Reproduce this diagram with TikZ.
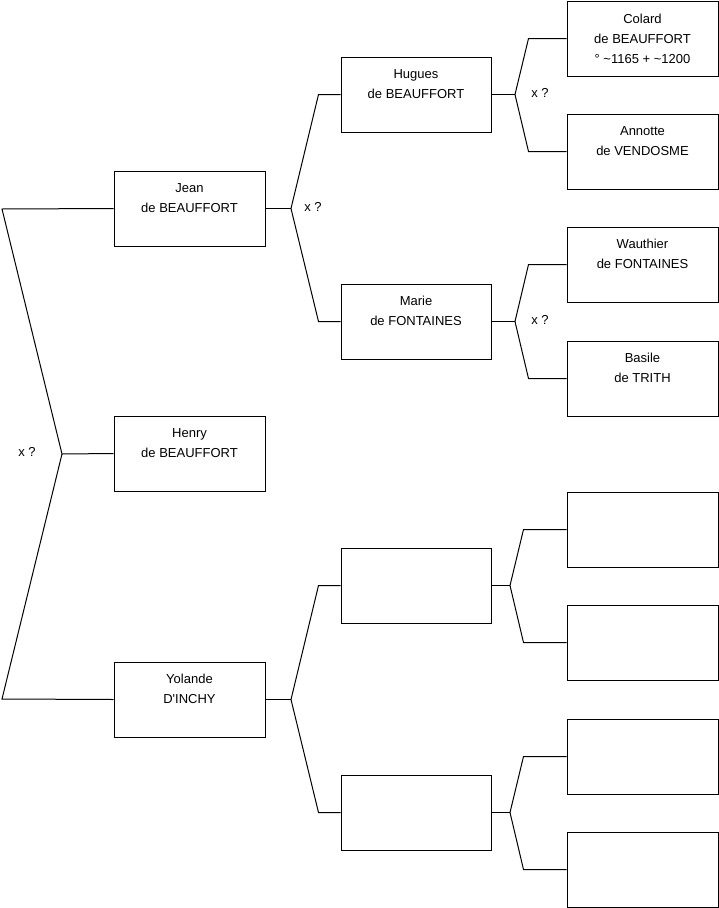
\documentclass[tikz,border=0pt]{standalone}
\usepackage{fontspec}
\setmainfont{Liberation Sans}
\begin{document}
\begin{tikzpicture}[x=1pt,y=-1pt,
  person/.style={draw=black,line width=1pt,fill=white,minimum width=151pt,minimum height=75pt,
    inner sep=0pt,align=center,font=\fontsize{13}{20}\selectfont},
  link/.style={draw=black,line width=1pt},
  qlabel/.style={font=\fontsize{13}{15}\selectfont,inner sep=0pt}]
\useasboundingbox (0,0) rectangle (719,908);
% level 1
\node[person] (jean) at (189.5,208.5) {Jean\\de BEAUFFORT\\[-5pt]\strut};
\node[person] (henry) at (189.5,453.5) {Henry\\de BEAUFFORT\\[-5pt]\strut};
\node[person] (yolande) at (189.5,699.5) {Yolande\\D\textquotesingle INCHY\\[-5pt]\strut};
% level 2
\node[person,minimum width=150pt] (hugues) at (416,94.5) {Hugues\\de BEAUFFORT\\[-5pt]\strut};
\node[person,minimum width=150pt] (marie) at (416,321.5) {Marie\\de FONTAINES\\[-5pt]\strut};
\node[person,minimum width=150pt] (e1) at (416,585.5) {};
\node[person,minimum width=150pt] (e2) at (416,812.5) {};
% level 3
\node[person] (colard) at (642.5,38.5) {Colard\\de BEAUFFORT\\° \textasciitilde1165 + \textasciitilde1200};
\node[person] (annotte) at (642.5,151.5) {Annotte\\de VENDOSME\\[-5pt]\strut};
\node[person] (wauthier) at (642.5,264.5) {Wauthier\\de FONTAINES\\[-5pt]\strut};
\node[person] (basile) at (642.5,378.5) {Basile\\de TRITH\\[-5pt]\strut};
\node[person] (e3) at (642.5,529.5) {};
\node[person] (e4) at (642.5,642.5) {};
\node[person] (e5) at (642.5,756.5) {};
\node[person] (e6) at (642.5,869.5) {};
% root connectors
\coordinate (r1) at (2,209);
\coordinate (rj) at (62,454);
\coordinate (r2) at (2,699);
\draw[link] (jean.west) -- (r1) -- (rj) -- (r2) -- (yolande.west);
\draw[link] (rj) -- (henry.west);
\node[qlabel] (q0) at (27,452) {x ?};
% Jean
\coordinate (jj) at (291,208.5);
\draw[link] (jean.east) -- (jj);
\draw[link] (hugues.west) -- ([xshift=-22pt]hugues.west) -- (jj) -- ([xshift=-22pt]marie.west) -- (marie.west);
\node[qlabel] (q1) at (313,207) {x ?};
% Yolande
\coordinate (jy) at (291,699.5);
\draw[link] (yolande.east) -- (jy);
\draw[link] (e1.west) -- ([xshift=-22pt]e1.west) -- (jy) -- ([xshift=-22pt]e2.west) -- (e2.west);
% Hugues
\coordinate (jh) at (515,94.5);
\draw[link] (hugues.east) -- (jh);
\draw[link] (colard.west) -- ([xshift=-38pt]colard.west) -- (jh) -- ([xshift=-38pt]annotte.west) -- (annotte.west);
\node[qlabel] (q2) at (540,93) {x ?};
% Marie
\coordinate (jm) at (515,321.5);
\draw[link] (marie.east) -- (jm);
\draw[link] (wauthier.west) -- ([xshift=-38pt]wauthier.west) -- (jm) -- ([xshift=-38pt]basile.west) -- (basile.west);
\node[qlabel] (q3) at (540,320) {x ?};
% empty 1
\coordinate (je1) at (510,585.5);
\draw[link] (e1.east) -- (je1);
\draw[link] (e3.west) -- ([xshift=-43pt]e3.west) -- (je1) -- ([xshift=-43pt]e4.west) -- (e4.west);
% empty 2
\coordinate (je2) at (510,812.5);
\draw[link] (e2.east) -- (je2);
\draw[link] (e5.west) -- ([xshift=-43pt]e5.west) -- (je2) -- ([xshift=-43pt]e6.west) -- (e6.west);
\end{tikzpicture}
\end{document}
